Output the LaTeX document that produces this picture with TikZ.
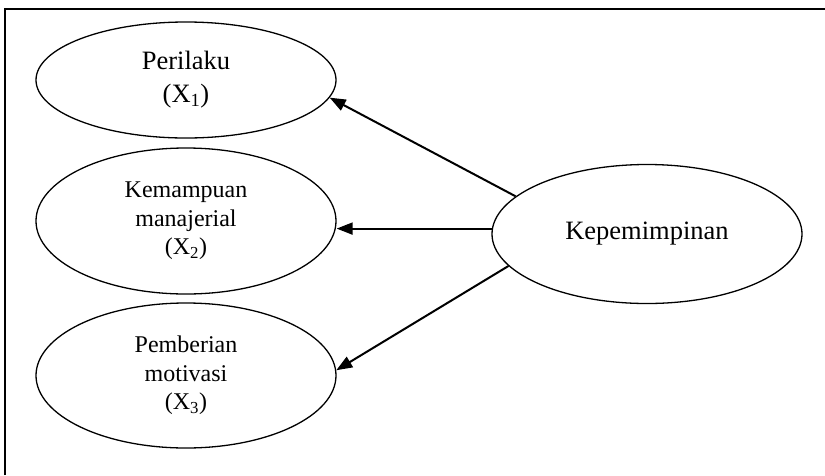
\documentclass[tikz,border=0pt]{standalone}
\usepackage{fontspec}
\setmainfont{Liberation Serif}
\usetikzlibrary{shapes.geometric,arrows.meta}
\begin{document}
\begin{tikzpicture}[x=1pt,y=-1pt,
  oval/.style={draw, line width=1.3pt, ellipse, inner sep=0pt, align=center},
  bigtext/.style={font=\fontsize{26.5}{33}\selectfont},
  smalltext/.style={font=\fontsize{24}{28.5}\selectfont},
  link/.style={line width=2pt, -{Triangle[length=16pt,width=12pt]}}]
\useasboundingbox (0,0) rectangle (825,475);
% frame
\draw[line width=1.4pt] (5,475) -- (5,9) -- (825,9);
% indicator ovals
\node[oval, bigtext, minimum width=300pt, minimum height=116pt] (x1) at (186,80) {Perilaku\\(X\textsubscript{1})};
\node[oval, smalltext, minimum width=300pt, minimum height=146pt] (x2) at (186,221) {Kemampuan\\manajerial\\(X\textsubscript{2})};
\node[oval, smalltext, minimum width=300pt, minimum height=145pt] (x3) at (186,375.5) {Pemberian\\motivasi\\(X\textsubscript{3})};
% construct oval
\node[oval, bigtext, minimum width=310pt, minimum height=139pt] (k) at (647,234) {Kepemimpinan};
% links
\draw[link] (k.164) -- (x1.-7);
\draw[link] (k.178) -- (x2.east |- k.178);
\draw[link] (k.193) -- (x3.2);
\end{tikzpicture}
\end{document}
